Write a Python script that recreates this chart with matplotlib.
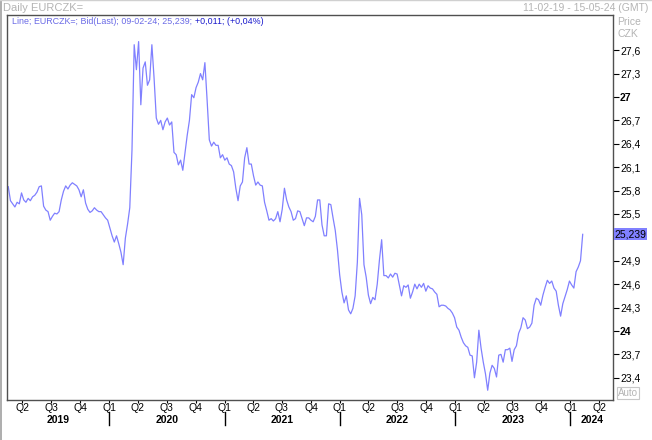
# Tageskurs EUR/CZK als Linienchart (Stil eines Terminal-Charts)
import matplotlib
matplotlib.use("Agg")
import matplotlib.pyplot as plt
import matplotlib.lines as mlines
import pandas as pd

plt.rcParams["font.family"] = ["Liberation Sans", "DejaVu Sans"]

# Kurswerte (woechentlich), letzter Wert = 09-02-24
kurs = [
    25.85, 25.67, 25.63, 25.59, 25.65, 25.63, 25.77, 25.68, 25.65, 25.70,
    25.67, 25.72, 25.74, 25.78, 25.85, 25.86, 25.60, 25.55, 25.53, 25.42,
    25.47, 25.51, 25.50, 25.53, 25.68, 25.79, 25.86, 25.82, 25.87, 25.90,
    25.88, 25.86, 25.81, 25.72, 25.81, 25.64, 25.56, 25.52, 25.54, 25.58,
    25.55, 25.53, 25.53, 25.49, 25.45, 25.42, 25.32, 25.22, 25.14, 25.22,
    25.12, 25.01, 24.85, 25.19, 25.37, 25.58, 26.32, 27.67, 27.35, 27.71,
    26.90, 27.37, 27.45, 27.15, 27.22, 27.67, 27.24, 26.73, 26.65, 26.70,
    26.58, 26.68, 26.73, 26.64, 26.68, 26.29, 26.26, 26.13, 26.19, 26.06,
    26.29, 26.51, 26.70, 27.03, 26.99, 27.12, 27.19, 27.30, 27.22, 27.44,
    26.96, 26.45, 26.37, 26.42, 26.38, 26.38, 26.22, 26.26, 26.19, 26.22,
    26.14, 26.12, 26.04, 25.83, 25.67, 25.86, 25.91, 26.22, 26.35, 26.14,
    26.14, 25.99, 25.87, 25.91, 25.87, 25.86, 25.65, 25.54, 25.42, 25.44,
    25.41, 25.44, 25.53, 25.40, 25.56, 25.83, 25.68, 25.59, 25.53, 25.42,
    25.44, 25.54, 25.53, 25.44, 25.35, 25.45, 25.45, 25.42, 25.40, 25.47,
    25.68, 25.68, 25.36, 25.22, 25.22, 25.63, 25.62, 25.45, 25.29, 25.04,
    24.72, 24.50, 24.36, 24.45, 24.27, 24.22, 24.29, 24.45, 24.88, 25.70,
    25.49, 24.85, 24.69, 24.46, 24.35, 24.43, 24.40, 24.60, 24.91, 25.17,
    24.71, 24.71, 24.68, 24.73, 24.69, 24.74, 24.73, 24.59, 24.45, 24.58,
    24.56, 24.59, 24.42, 24.50, 24.60, 24.54, 24.60, 24.56, 24.61, 24.51,
    24.58, 24.55, 24.54, 24.50, 24.47, 24.31, 24.33, 24.33, 24.32, 24.29,
    24.27, 24.23, 24.17, 24.05, 24.01, 23.92, 23.85, 23.81, 23.79, 23.69,
    23.68, 23.40, 23.60, 24.01, 23.78, 23.60, 23.45, 23.24, 23.46, 23.56,
    23.52, 23.41, 23.69, 23.70, 23.60, 23.76, 23.76, 23.78, 23.61, 23.76,
    23.81, 23.97, 24.04, 24.17, 24.14, 24.03, 24.05, 24.10, 24.33, 24.42,
    24.40, 24.33, 24.46, 24.56, 24.65, 24.61, 24.64, 24.55, 24.51, 24.33,
    24.19, 24.35, 24.44, 24.53, 24.64, 24.59, 24.55, 24.76, 24.82, 24.90,
    25.239,
]
datum = pd.date_range(end="2024-02-09", periods=len(kurs), freq="7D")

x_start = pd.Timestamp("2019-02-11")
x_ende = pd.Timestamp("2024-05-15")
y_ticks = [23.4, 23.7, 24.0, 24.3, 24.6, 24.9, 25.2, 25.5, 25.8, 26.1, 26.4, 26.7, 27.0, 27.3, 27.6]
quartale = pd.date_range("2019-04-01", "2024-04-01", freq="QS")
quartal_labels = ["Q%d" % q.quarter for q in quartale]
jahre = [2019, 2020, 2021, 2022, 2023, 2024]
letzter_kurs = 25.239
letzter_wert = "25,239"

grau = "#b4b4b4"
linienfarbe = "#8080ff"

fig = plt.figure(figsize=(6.52, 4.4), dpi=100)
ax = fig.add_axes([7 / 652, 40 / 440, 606 / 652, 385 / 440])

ax.plot(datum, kurs, color=linienfarbe, lw=0.9)
ax.set_xlim(x_start, x_ende)
ax.set_ylim(23.115, 28.051)

for s in ax.spines.values():
    s.set_color("#505050")
    s.set_linewidth(1)

# Preisachse rechts (25,2 liegt unter der Marke des letzten Kurses)
ax.yaxis.tick_right()
ax.set_yticks(y_ticks)
ax.set_yticklabels(["" if v == 25.2 else ("%g" % v).replace(".", ",") for v in y_ticks])
for lab, v in zip(ax.get_yticklabels(), y_ticks):
    if v == int(v):
        lab.set_fontweight("bold")
ax.tick_params(axis="y", direction="out", length=4, width=0.8, pad=1, labelsize=7.5)

# Quartale unten
ax.set_xticks(quartale)
ax.set_xticklabels(quartal_labels)
ax.tick_params(axis="x", direction="out", length=2, width=0.8, pad=0.5, labelsize=7.5)

trans = ax.get_xaxis_transform()
for j in jahre:
    a = max(pd.Timestamp("%d-01-01" % j), x_start)
    b = min(pd.Timestamp("%d-12-31" % j), x_ende)
    mitte = a + (b - a) / 2
    ax.text(mitte, -0.053, str(j), transform=trans, ha="center", va="center",
            fontsize=7.5, fontweight="bold")
    if j > 2019:
        ax.plot([pd.Timestamp("%d-01-01" % j)] * 2, [-0.031, -0.064], transform=trans,
                color="black", lw=1, clip_on=False)

# letzter Kurs als Marke an der Achse
ax.text(1 + 1.5 / 606, letzter_kurs, letzter_wert, transform=ax.get_yaxis_transform(),
        ha="left", va="center", fontsize=7.5, color="black",
        bbox=dict(facecolor=linienfarbe, edgecolor="none", pad=0.6))

# Kopfzeilen
fig.text(3 / 652, 1 - 8 / 440, "Daily EURCZK=", color=grau, fontsize=8, va="center")
fig.text(648 / 652, 1 - 8 / 440, "11-02-19 - 15-05-24 (GMT)", color=grau, fontsize=7.5,
         va="center", ha="right")
fig.text(617 / 652, 1 - 22 / 440, "Price", color=grau, fontsize=7.5, va="center")
fig.text(617 / 652, 1 - 34 / 440, "CZK", color=grau, fontsize=7.5, va="center")
fig.text(628 / 652, 1 - 393 / 440, "Auto", color=grau, fontsize=7, va="center", ha="center",
         bbox=dict(facecolor="white", edgecolor="#c8c8c8", pad=0.8, lw=0.8))

t1 = fig.text(12 / 652, 1 - 22 / 440, "Line; EURCZK=; Bid(Last); 09-02-24; 25,239; ",
              color="#6a6ae6", fontsize=6.4, va="center")
fig.canvas.draw()
bb = t1.get_window_extent()
fig.text(bb.x1 / fig.bbox.width, 1 - 22 / 440, "+0,011; (+0,04%)", color="#1a1acc",
         fontsize=6.4, va="center")

# Rahmen am Rand
fig.add_artist(mlines.Line2D([0.5 / 652, 0.5 / 652], [0, 1], transform=fig.transFigure,
                             color="#a0a0a0", lw=1.2))
fig.add_artist(mlines.Line2D([0, 1], [1 - 0.5 / 440, 1 - 0.5 / 440], transform=fig.transFigure,
                             color="#d0d0d0", lw=1))

fig.savefig("out.png", dpi=100)
